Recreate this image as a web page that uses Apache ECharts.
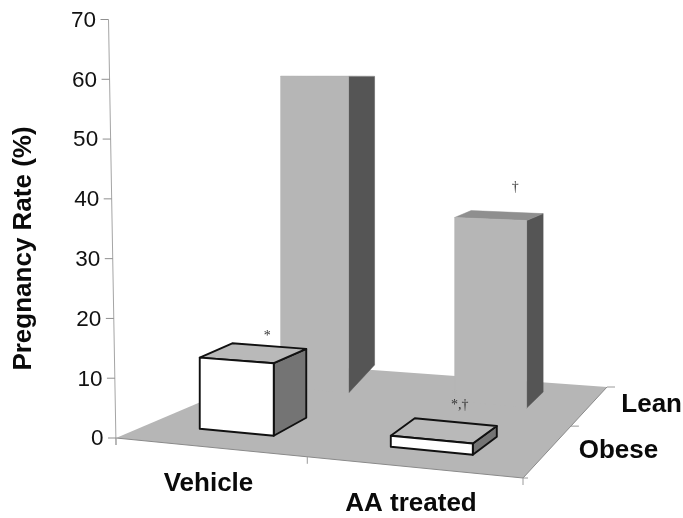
<!DOCTYPE html>
<html>
<head>
<meta charset="utf-8">
<style>html,body{margin:0;padding:0;background:#fff}#c{width:683px;height:518px}</style>
<script src="https://cdn.jsdelivr.net/npm/echarts@6/dist/echarts.min.js"></script>
</head>
<body>
<div id="c"></div>
<script>
// ---- data ----
const categories = ['Vehicle', 'AA treated'];
const depthRows = ['Obese', 'Lean'];
const obeseValues = [12.2, 1.8];
const leanValues = [60.5, 34.2];
const valueTicks = [0, 10, 20, 30, 40, 50, 60, 70];
const yAxisTitle = 'Pregnancy Rate (%)';
const obeseMarks = ['*', '*,\u2020'];
const leanMarks = ['', '\u2020'];

// ---- layout of the 3-D scene (not data) ----
const FLOOR = { a: [116, 438], b: [523, 478], c: [607, 387], d: [290, 364] };
const HORIZON = 60.4;            // eye level in value units
const AXIS_LEAN = 7.5 / 70;      // px of lean per unit on the tilted value axis
const FOOT = {
  Obese: [
    { u: 0.13, v: 0.19, w: [74, 7], d: [32.5, -18] },
    { u: 0.62, v: 0.19, w: [82, 8], d: [24, -18] }
  ],
  Lean: [
    { u: 0.11, v: 0.73, w: [68, 6], d: [26, -28] },
    { u: 0.62, v: 0.73, w: [72, 7], d: [16.5, -16] }
  ]
};
const LOOK = {
  Obese: { front: '#ffffff', top: '#b9b9b9', side: '#747474', stroke: '#111111', lineWidth: 1.9 },
  Lean: { front: '#b6b6b6', top: '#8f8f8f', side: '#555555', stroke: null, lineWidth: 0 }
};
const MARK_POS = {
  Obese: [[-39, -13], [-37, -21]],
  Lean: [[0, 0], [-28, -26]]
};
const CAT_LABEL_POS = [[208.5, 483.5], [411, 504]];
const ROW_LABEL_POS = [[618.5, 451], [682, 405]];
const LABEL_FONT = 'bold 26px "Liberation Sans", Arial, sans-serif';
const TICK_FONT = '22.5px "Liberation Sans", Arial, sans-serif';

function floorPoint(u, v) {
  const f = FLOOR;
  const mix = i => f.a[i] * (1 - u) * (1 - v) + f.b[i] * u * (1 - v) + f.c[i] * u * v + f.d[i] * (1 - u) * v;
  return [mix(0), mix(1)];
}
function line(p, q, color, width) {
  return { type: 'line', shape: { x1: p[0], y1: p[1], x2: q[0], y2: q[1] },
           style: { stroke: color, lineWidth: width } };
}
function text(x, y, str, font, fill, align, extra) {
  return Object.assign({ type: 'text', x: x, y: y,
    style: { text: str, font: font, fill: fill, textAlign: align || 'center', textVerticalAlign: 'middle' } }, extra || {});
}

function renderFrame(params, api) {
  const children = [];
  const f = FLOOR;
  children.push({ type: 'polygon', shape: { points: [f.a, f.b, f.c, f.d] }, style: { fill: '#b6b6b6' } });
  children.push(line(f.a, f.b, '#8a8a8a', 1));
  children.push(line(f.b, f.c, '#8a8a8a', 1));
  // front-edge ticks
  [0, 0.47, 1].forEach(u => {
    const p = floorPoint(u, 0);
    children.push(line(p, [p[0], p[1] + 7], '#9a9a9a', 1));
  });
  // side-edge ticks
  [0, 0.57, 1].forEach(v => {
    const p = floorPoint(1, v);
    children.push(line(p, [p[0] + (v === 0 ? 5 : 8), p[1]], '#9a9a9a', 1));
  });
  // tilted value axis
  const top = valueTicks[valueTicks.length - 1];
  const axisX = v => f.a[0] - v * AXIS_LEAN;
  children.push(line([axisX(top), api.coord([0, top])[1]], [f.a[0], f.a[1] + 7], '#a5a5a5', 1));
  valueTicks.forEach(t => {
    const y = api.coord([0, t])[1];
    children.push(line([axisX(t) - 8, y], [axisX(t), y], '#8f8f8f', 1));
    children.push(text(axisX(t) - 12.5, y + 1.2, String(t), TICK_FONT, '#111', 'right'));
  });
  return { type: 'group', children: children };
}

function renderBar(params, api) {
  const cat = api.value(0), row = depthRows[api.value(1)], val = api.value(2);
  const foot = FOOT[row][cat], look = LOOK[row];
  const zero = api.coord([0, 0])[1];
  const eye = api.coord([0, HORIZON])[1];
  const rise = baseY => (zero - api.coord([0, val])[1]) * (baseY - eye) / (zero - eye);
  const up = p => [p[0], p[1] - rise(p[1])];
  const bl = floorPoint(foot.u, foot.v);
  const br = [bl[0] + foot.w[0], bl[1] + foot.w[1]];
  const bbr = [br[0] + foot.d[0], br[1] + foot.d[1]];
  const bbl = [bl[0] + foot.d[0], bl[1] + foot.d[1]];
  const st = fill => ({ fill: fill, stroke: look.stroke || fill, lineWidth: look.lineWidth || 0.5, lineJoin: 'round' });
  return { type: 'group', children: [
    { type: 'polygon', shape: { points: [br, bbr, up(bbr), up(br)] }, style: st(look.side) },
    { type: 'polygon', shape: { points: [up(bl), up(br), up(bbr), up(bbl)] }, style: st(look.top) },
    { type: 'polygon', shape: { points: [bl, br, up(br), up(bl)] }, style: st(look.front) }
  ]};
}

function renderMarks(params, api) {
  const cat = api.value(0), row = depthRows[api.value(1)], val = api.value(2);
  const foot = FOOT[row][cat];
  const marks = row === 'Obese' ? obeseMarks : leanMarks;
  const zero = api.coord([0, 0])[1], eye = api.coord([0, HORIZON])[1];
  const bl = floorPoint(foot.u, foot.v);
  const bbr = [bl[0] + foot.w[0] + foot.d[0], bl[1] + foot.w[1] + foot.d[1]];
  const rise = (zero - api.coord([0, val])[1]) * (bbr[1] - eye) / (zero - eye);
  const off = MARK_POS[row][cat];
  return text(bbr[0] + off[0], bbr[1] - rise + off[1], marks[cat],
    '14px "Liberation Serif", "Times New Roman", serif', '#333', 'center');
}

function renderLabels() {
  const children = [];
  categories.forEach((c, i) => {
    const at = CAT_LABEL_POS[i];
    children.push(text(at[0], at[1], c, LABEL_FONT, '#0a0a0a', 'center'));
  });
  depthRows.forEach((r, i) => {
    const at = ROW_LABEL_POS[i];
    children.push(text(at[0], at[1], r, LABEL_FONT, '#0a0a0a', i === 0 ? 'center' : 'right'));
  });
  children.push(text(24, 248.5, yAxisTitle, LABEL_FONT, '#0a0a0a', 'center', { rotation: Math.PI / 2 }));
  return { type: 'group', children: children };
}

const rows = [
  ...leanValues.map((v, i) => [i, 1, v]),
  ...obeseValues.map((v, i) => [i, 0, v])
];
const custom = (name, data, fn, z) => ({
  type: 'custom', name: name, coordinateSystem: 'cartesian2d', data: data, renderItem: fn,
  clip: false, silent: true, z: z, encode: { x: 0, y: 1 }
});

const chart = echarts.init(document.getElementById('c'), null, { renderer: 'canvas' });
chart.setOption({
  animation: false,
  backgroundColor: '#ffffff',
  tooltip: { show: false },
  grid: { left: 0, right: 0, top: 19.5, bottom: 80 },
  xAxis: { type: 'value', min: 0, max: 683, show: false },
  yAxis: { type: 'value', min: 0, max: 70, interval: 10, show: false },
  series: [
    custom('frame', [[0, 0]], renderFrame, 1),
    custom('bars', rows, renderBar, 2),
    custom('marks', rows.filter(r => (r[1] === 0 ? obeseMarks : leanMarks)[r[0]]), renderMarks, 3),
    custom('labels', [[0, 0]], renderLabels, 4)
  ]
});
</script>
</body>
</html>
